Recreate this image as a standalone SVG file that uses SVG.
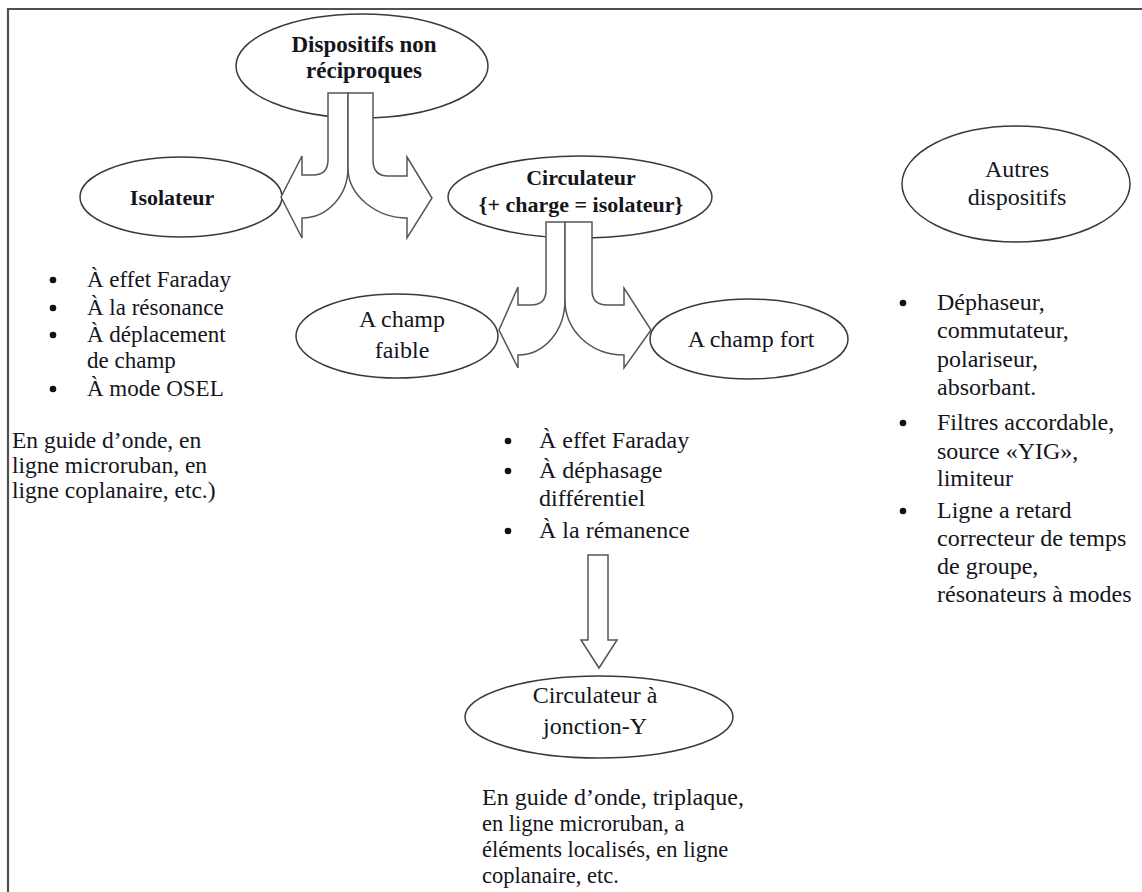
<svg xmlns="http://www.w3.org/2000/svg" width="1142" height="892" viewBox="0 0 1142 892">
<style>
  .ell { fill: #fff; stroke: #3a3a3a; stroke-width: 1.5; }
  .arr { fill: #fff; stroke: #555; stroke-width: 1.5; stroke-linejoin: miter; }
  .t { font-family: "Liberation Serif", "Times New Roman", serif; fill: #15151c; }
  .b { font-weight: bold; }
  .c { text-anchor: middle; }
  .dot { fill: #111; }
</style>
<rect x="0" y="0" width="1142" height="892" fill="#fff"/>
<path d="M8,892 V9 H1142" fill="none" stroke="#505050" stroke-width="2.2"/>

<g id="node-dispositifs">
  <ellipse class="ell" cx="362" cy="66" rx="126" ry="52"/>
  <text class="t b c" font-size="23" x="364" y="52">Dispositifs non</text>
  <text class="t b c" font-size="23" x="364" y="78">réciproques</text>
</g>

<g id="node-isolateur">
  <ellipse class="ell" cx="181" cy="197" rx="101" ry="40"/>
  <text class="t b c" font-size="22" x="172" y="205">Isolateur</text>
</g>

<g id="node-circulateur">
  <ellipse class="ell" cx="580" cy="197" rx="132" ry="41"/>
  <text class="t b c" font-size="22" x="581" y="185">Circulateur</text>
  <text class="t b c" font-size="22" x="581" y="212">{+ charge = isolateur}</text>
</g>

<g id="node-autres">
  <ellipse class="ell" cx="1016" cy="184" rx="114" ry="58"/>
  <text class="t c" font-size="24" x="1017" y="177">Autres</text>
  <text class="t c" font-size="24" x="1017" y="205">dispositifs</text>
</g>

<g id="node-champ-faible">
  <ellipse class="ell" cx="397" cy="336" rx="101" ry="42"/>
  <text class="t c" font-size="24" x="402" y="327">A champ</text>
  <text class="t c" font-size="24" x="402" y="358">faible</text>
</g>

<g id="node-champ-fort">
  <ellipse class="ell" cx="749" cy="339" rx="99" ry="40"/>
  <text class="t c" font-size="24" x="751" y="347">A champ fort</text>
</g>

<g id="node-jonction-y">
  <ellipse class="ell" cx="599" cy="717" rx="134" ry="41"/>
  <text class="t c" font-size="24" x="595" y="703">Circulateur à</text>
  <text class="t c" font-size="24" x="595" y="734">jonction-Y</text>
</g>

<g id="connectors">
  <!-- split arrow from Dispositifs non réciproques -->
  <path class="arr" d="M328,93 V160 Q328,175 313,175 H302 V156 L281,197 L302,238 V218 C327,218 348,196 348,168 V93 Z"/>
  <path class="arr" d="M373,93 V160 Q373,176 388,176 H407 V157 L432,198 L407,238 V218 C377,218 348,196 348,168 V93 Z"/>
  <!-- split arrow from Circulateur -->
  <path class="arr" d="M546,222 V290 Q546,305 531,305 H518 V287 L499,330 L518,368 V355 C545,355 565,330 565,300 V222 Z"/>
  <path class="arr" d="M592,222 V290 Q592,305 607,305 H624 V288 L651,330 L624,368 V355 C590,355 565,330 565,300 V222 Z"/>
  <!-- down arrow -->
  <path class="arr" d="M588,555 H608 V640 H617 L599,668 L581,640 H588 Z"/>
</g>

<g id="list-isolateur">
  <circle class="dot" cx="53" cy="280" r="3.3"/>
  <text class="t" font-size="23" x="87" y="287">À effet Faraday</text>
  <circle class="dot" cx="53" cy="308" r="3.3"/>
  <text class="t" font-size="23" x="87" y="315">À la résonance</text>
  <circle class="dot" cx="53" cy="335" r="3.3"/>
  <text class="t" font-size="23" x="87" y="342">À déplacement</text>
  <text class="t" font-size="23" x="87" y="368">de champ</text>
  <circle class="dot" cx="53" cy="389" r="3.3"/>
  <text class="t" font-size="23" x="87" y="396">À mode  OSEL</text>
</g>

<g id="text-isolateur-lignes">
  <text class="t" font-size="23.5" x="12" y="448">En guide d’onde, en</text>
  <text class="t" font-size="23.5" x="12" y="473">ligne microruban, en</text>
  <text class="t" font-size="23.5" x="12" y="498">ligne coplanaire, etc.)</text>
</g>

<g id="list-circulateur">
  <circle class="dot" cx="508" cy="441" r="3.3"/>
  <text class="t" font-size="24" x="539" y="448">À effet Faraday</text>
  <circle class="dot" cx="508" cy="471" r="3.3"/>
  <text class="t" font-size="24" x="539" y="478">À déphasage</text>
  <text class="t" font-size="24" x="539" y="506">différentiel</text>
  <circle class="dot" cx="508" cy="531" r="3.3"/>
  <text class="t" font-size="24" x="539" y="538">À la rémanence</text>
</g>

<g id="list-autres">
  <circle class="dot" cx="903" cy="303" r="3.3"/>
  <text class="t" font-size="24" x="937" y="310">Déphaseur,</text>
  <text class="t" font-size="24" x="937" y="338">commutateur,</text>
  <text class="t" font-size="24" x="937" y="367">polariseur,</text>
  <text class="t" font-size="24" x="937" y="395">absorbant.</text>
  <circle class="dot" cx="903" cy="423" r="3.3"/>
  <text class="t" font-size="24" x="937" y="430">Filtres accordable,</text>
  <text class="t" font-size="24" x="937" y="459">source «YIG»,</text>
  <text class="t" font-size="24" x="937" y="486">limiteur</text>
  <circle class="dot" cx="903" cy="511" r="3.3"/>
  <text class="t" font-size="24" x="937" y="518">Ligne a retard</text>
  <text class="t" font-size="24" x="937" y="546">correcteur de temps</text>
  <text class="t" font-size="24" x="937" y="574">de groupe,</text>
  <text class="t" font-size="24" x="937" y="602">résonateurs à modes</text>
</g>

<g id="text-jonction-y">
  <text class="t" font-size="24" x="482" y="805">En guide d’onde, triplaque,</text>
  <text class="t" font-size="22.5" x="482" y="831">en ligne microruban, a</text>
  <text class="t" font-size="22.5" x="482" y="857">éléments localisés, en ligne</text>
  <text class="t" font-size="22.5" x="482" y="883">coplanaire, etc.</text>
</g>
</svg>
